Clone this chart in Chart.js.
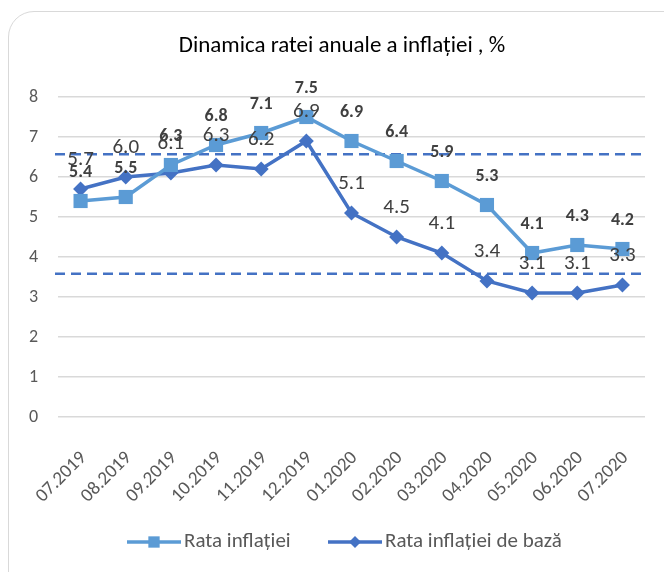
<!DOCTYPE html>
<html>
<head>
<meta charset="utf-8">
<script src="https://cdn.jsdelivr.net/npm/chart.js@4/dist/chart.umd.min.js"></script>
<style>
    html, body { margin: 0; padding: 0; background: #fff; overflow: hidden; }
    #wrap { position: relative; width: 664px; height: 572px; }
    #frame {
        position: absolute; left: 8px; top: 11px; width: 690px; height: 620px;
        border: 1.5px solid #d9d9d9; border-radius: 26px; box-sizing: border-box;
    }
    canvas { position: absolute; left: 0; top: 0; }
</style>
</head>
<body>
<div id="wrap">
    <div id="frame"></div>
    <canvas id="inflChart" width="664" height="572"></canvas>
</div>
<script>
// Chart data
const categories = ['07.2019', '08.2019', '09.2019', '10.2019', '11.2019', '12.2019',
    '01.2020', '02.2020', '03.2020', '04.2020', '05.2020', '06.2020', '07.2020'];
const inflation = [5.4, 5.5, 6.3, 6.8, 7.1, 7.5, 6.9, 6.4, 5.9, 5.3, 4.1, 4.3, 4.2];
const coreInflation = [5.7, 6.0, 6.1, 6.3, 6.2, 6.9, 5.1, 4.5, 4.1, 3.4, 3.1, 3.1, 3.3];
const targetBand = [6.57, 3.58];
const seriesNames = ['Rata inflației', 'Rata inflației de bază'];
const chartTitle = 'Dinamica ratei anuale a inflației , %';

const FONT = 'Carlito, Lato, "Open Sans", sans-serif';
const TEXT = '#404040';
const AXIS_TEXT = '#595959';

// title drawn by hand so it sits where the spreadsheet put it
const titleText = {
    id: 'titleText',
    afterDraw(chart) {
        const { ctx } = chart;
        ctx.save();
        ctx.font = '23px ' + FONT;
        ctx.fillStyle = '#000';
        ctx.textAlign = 'center';
        ctx.textBaseline = 'alphabetic';
        ctx.fillText(chartTitle, 342, 52);
        ctx.restore();
    }
};

// dashed horizontal lines for the target band
const bandLines = {
    id: 'bandLines',
    beforeDatasetsDraw(chart) {
        const { ctx, chartArea, scales } = chart;
        ctx.save();
        ctx.strokeStyle = '#4472C4';
        ctx.lineWidth = 2.5;
        ctx.setLineDash([10, 6]);
        targetBand.forEach(v => {
            const y = scales.y.getPixelForValue(v);
            ctx.beginPath();
            ctx.moveTo(chartArea.left - 3, y);
            ctx.lineTo(chartArea.right, y);
            ctx.stroke();
        });
        ctx.restore();
    }
};

// value labels above the points
const valueLabels = {
    id: 'valueLabels',
    afterDatasetsDraw(chart) {
        const { ctx } = chart;
        ctx.save();
        ctx.textAlign = 'center';
        ctx.textBaseline = 'middle';
        ctx.fillStyle = TEXT;
        chart.data.datasets.forEach((ds, i) => {
            const meta = chart.getDatasetMeta(i);
            ctx.font = ds.labelFont;
            meta.data.forEach((pt, j) => {
                ctx.fillText(ds.data[j].toFixed(1), pt.x, pt.y - 29);
            });
        });
        ctx.restore();
    }
};

// legend with line + marker, like the spreadsheet one
const lineLegend = {
    id: 'lineLegend',
    afterDraw(chart) {
        const { ctx } = chart;
        const y = 542;
        const starts = [127, 328];
        ctx.save();
        ctx.font = '21px ' + FONT;
        ctx.textBaseline = 'middle';
        ctx.textAlign = 'left';
        chart.data.datasets.forEach((ds, i) => {
            const x0 = starts[i];
            ctx.strokeStyle = ds.borderColor;
            ctx.lineWidth = ds.borderWidth;
            ctx.setLineDash([]);
            ctx.beginPath();
            ctx.moveTo(x0, y);
            ctx.lineTo(x0 + 54, y);
            ctx.stroke();
            ctx.fillStyle = ds.pointBackgroundColor;
            Chart.helpers.drawPoint(ctx, {
                pointStyle: ds.pointStyle, radius: ds.pointRadius * 0.8, rotation: 0, borderWidth: 0
            }, x0 + 27, y);
            ctx.fillStyle = AXIS_TEXT;
            ctx.fillText(ds.label, x0 + 57, y);
        });
        ctx.restore();
    }
};

const ctx = document.getElementById('inflChart').getContext('2d');
new Chart(ctx, {
    type: 'line',
    data: {
        labels: categories,
        datasets: [{
            label: seriesNames[0],
            data: inflation,
            borderColor: '#5B9BD5',
            backgroundColor: '#5B9BD5',
            pointBackgroundColor: '#5B9BD5',
            pointBorderColor: '#5B9BD5',
            borderWidth: 3.5,
            pointStyle: 'rect',
            pointRadius: 10,
            pointBorderWidth: 0,
            tension: 0,
            labelFont: 'bold 18px ' + FONT
        }, {
            label: seriesNames[1],
            data: coreInflation,
            borderColor: '#4472C4',
            backgroundColor: '#4472C4',
            pointBackgroundColor: '#4472C4',
            pointBorderColor: '#4472C4',
            borderWidth: 3.5,
            pointStyle: 'rectRot',
            pointRadius: 7.5,
            pointBorderWidth: 0,
            tension: 0,
            labelFont: '21px ' + FONT
        }]
    },
    options: {
        responsive: false,
        animation: false,
        layout: { padding: { left: 0, right: 19, top: 97, bottom: 0 } },
        plugins: {
            legend: { display: false },
            tooltip: { enabled: false },
            title: { display: false }
        },
        scales: {
            x: {
                offset: true,
                grid: { display: false },
                border: { display: false },
                ticks: {
                    autoSkip: false,
                    minRotation: 45,
                    maxRotation: 45,
                    color: AXIS_TEXT,
                    padding: 22,
                    labelOffset: 3,
                    font: { family: FONT, size: 19 }
                },
                afterFit(scale) { scale.height = 155; }
            },
            y: {
                min: 0,
                max: 8,
                ticks: {
                    stepSize: 1,
                    color: AXIS_TEXT,
                    padding: 20,
                    font: { family: FONT, size: 18 }
                },
                grid: { color: '#d9d9d9', lineWidth: 1.5, drawTicks: false },
                border: { display: false },
                afterFit(scale) { scale.width = 58; }
            }
        }
    },
    plugins: [titleText, bandLines, valueLabels, lineLegend]
});
</script>
</body>
</html>
